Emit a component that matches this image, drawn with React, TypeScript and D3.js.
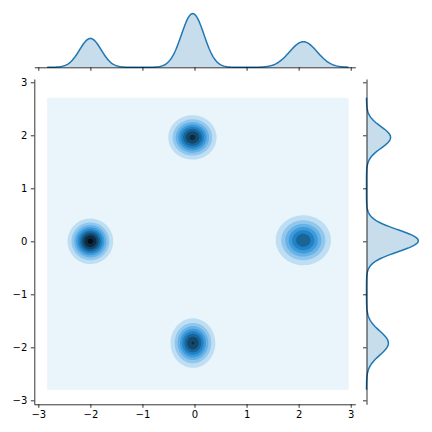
import { useRef, useEffect } from "react";
import * as d3 from "d3";

// cluster parameters (centre, spread, share)
const clusterX = [-2.0, -0.04, 2.09, -0.03];
const clusterY = [0.0, 1.96, 0.02, -1.92];
const spreadX = [0.207, 0.225, 0.265, 0.21];
const spreadY = [0.203, 0.203, 0.212, 0.228];
const weights = [0.246, 0.238, 0.279, 0.243];
// the joint kde smooths a little more than the marginal ones
const jointSpreadX = [0.207, 0.225, 0.27, 0.21];
const jointSpreadY = [0.203, 0.203, 0.24, 0.228];

// evaluation grid of the kde
const gridX = [-2.83, 2.96];
const gridY = [-2.8, 2.71];

const xTicks = [-3, -2, -1, 0, 1, 2, 3];
const yTicks = [-3, -2, -1, 0, 1, 2, 3];

const BLUE = "#1f77b4";

const gauss = (v: number, m: number, s: number) =>
  Math.exp(-0.5 * ((v - m) / s) ** 2) / (s * Math.sqrt(2 * Math.PI));

const joint = (x: number, y: number) =>
  d3.sum(weights, (w, i) => w * gauss(x, clusterX[i], jointSpreadX[i]) * gauss(y, clusterY[i], jointSpreadY[i]));
const margX = (x: number) => d3.sum(weights, (w, i) => w * gauss(x, clusterX[i], spreadX[i]));
const margY = (y: number) => d3.sum(weights, (w, i) => w * gauss(y, clusterY[i], spreadY[i]));

// matplotlib-like MaxNLocator levels
function niceLevels(zmax: number, nbins = 11) {
  const scale = 10 ** Math.floor(Math.log10(zmax / nbins));
  for (const m of [1, 2, 2.5, 5, 10]) {
    const step = m * scale;
    const n = Math.ceil(zmax / step - 1e-9);
    if (n <= nbins) return d3.range(0, n + 1).map((i) => i * step);
  }
  return [0, zmax];
}

export default function App() {
  const svgRef = useRef<SVGSVGElement>(null);

  useEffect(() => {
    const svg = d3.select(svgRef.current);
    svg.selectAll("*").remove();

    const x = d3.scaleLinear().domain([-3.077, 3.088]).range([34.3, 355.3]);
    const y = d3.scaleLinear().domain([-3.075, 3.062]).range([404.3, 79]);

    // colormap: light -> blue -> dark, like seaborn's jointplot cmap
    const h = d3.hsl(BLUE);
    const stops = d3.range(12).map((i) => d3.hsl(h.h, h.s, 1 - i / 11).formatRgb());
    const cmap = d3.piecewise(d3.interpolateRgb, stops);

    // density grid
    const n = 180, m = 180;
    const values = new Array(n * m);
    for (let j = 0; j < m; j++) {
      const yy = gridY[1] - ((j + 0.5) / m) * (gridY[1] - gridY[0]);
      for (let i = 0; i < n; i++) {
        const xx = gridX[0] + ((i + 0.5) / n) * (gridX[1] - gridX[0]);
        values[i + j * n] = joint(xx, yy);
      }
    }
    const levels = niceLevels(d3.max(values));
    const top = levels[levels.length - 1];
    const contours = d3.contours().size([n, m]).thresholds(levels.slice(0, -1))(values);

    const px = (gx: number) => x(gridX[0] + (gx / n) * (gridX[1] - gridX[0]));
    const py = (gy: number) => y(gridY[1] - (gy / m) * (gridY[1] - gridY[0]));
    const toPath = (c: any) =>
      c.coordinates
        .map((poly: number[][][]) =>
          poly.map((ring) => "M" + ring.map((p) => `${px(p[0])},${py(p[1])}`).join("L") + "Z").join("")
        )
        .join("");

    svg.append("g")
      .selectAll("path")
      .data(contours)
      .join("path")
      .attr("d", toPath)
      .attr("fill-rule", "evenodd")
      .attr("fill", (c, k) => cmap((levels[k] + levels[k + 1]) / 2 / top));

    const font = (g: any) =>
      g.selectAll("text").attr("font-family", "DejaVu Sans").attr("font-size", 10).attr("fill", "#000");
    const fmt = (d: number) => (d < 0 ? "\u2212" + Math.abs(d) : String(d));

    // main axes (left + bottom spines)
    const gx = svg.append("g")
      .attr("transform", "translate(0,404.3)")
      .call(d3.axisBottom(x).tickValues(xTicks).tickFormat(fmt).tickSize(3.5).tickPadding(3.5).tickSizeOuter(0));
    font(gx);
    const gy = svg.append("g")
      .attr("transform", "translate(34.3,0)")
      .call(d3.axisLeft(y).tickValues(yTicks).tickFormat(fmt).tickSize(3.5).tickPadding(3.5).tickSizeOuter(0));
    font(gy);

    // top marginal
    const xs = d3.range(301).map((i) => gridX[0] + (i / 300) * (gridX[1] - gridX[0]));
    const topVals = xs.map(margX);
    const dTop = d3.scaleLinear().domain([0, d3.max(topVals) * 1.05]).range([67.3, 10.9]);
    svg.append("path")
      .datum(xs)
      .attr("fill", BLUE)
      .attr("fill-opacity", 0.25)
      .attr("d", d3.area<number>().x((d) => x(d)).y0(dTop(0)).y1((d) => dTop(margX(d))));
    svg.append("path")
      .datum(xs)
      .attr("fill", "none")
      .attr("stroke", BLUE)
      .attr("stroke-width", 1.5)
      .attr("d", d3.line<number>().x((d) => x(d)).y((d) => dTop(margX(d))));
    svg.append("g")
      .attr("transform", "translate(0,67.3)")
      .call(d3.axisBottom(x).tickValues(xTicks).tickFormat(() => "").tickSize(3.5).tickSizeOuter(0));

    // right marginal
    const ys = d3.range(301).map((i) => gridY[0] + (i / 300) * (gridY[1] - gridY[0]));
    const rightVals = ys.map(margY);
    const dRight = d3.scaleLinear().domain([0, d3.max(rightVals) * 1.05]).range([366.5, 420.9]);
    svg.append("path")
      .datum(ys)
      .attr("fill", BLUE)
      .attr("fill-opacity", 0.25)
      .attr("d", d3.area<number>().y((d) => y(d)).x0(dRight(0)).x1((d) => dRight(margY(d))));
    svg.append("path")
      .datum(ys)
      .attr("fill", "none")
      .attr("stroke", BLUE)
      .attr("stroke-width", 1.5)
      .attr("d", d3.line<number>().y((d) => y(d)).x((d) => dRight(margY(d))));
    svg.append("g")
      .attr("transform", "translate(366.5,0)")
      .call(d3.axisLeft(y).tickValues(yTicks).tickFormat(() => "").tickSize(3.5).tickSizeOuter(0));

    svg.selectAll(".domain, .tick line").attr("stroke", "#000").attr("stroke-width", 0.8);
  }, []);

  return (
    <svg
      ref={svgRef}
      width={432}
      height={432}
      style={{ position: "absolute", left: 0, top: 0, background: "#fff" }}
    />
  );
}
